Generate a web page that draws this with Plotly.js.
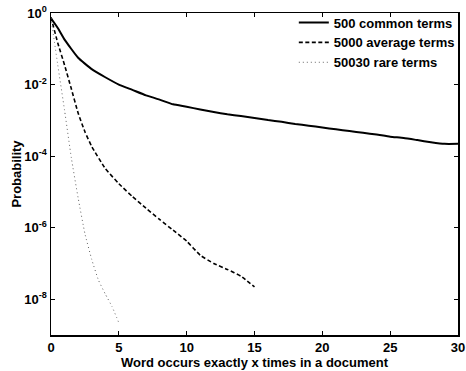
<!DOCTYPE html>
<html>
<head>
<meta charset="utf-8">
<script src="https://cdn.plot.ly/plotly-3.0.1.min.js"></script>
<style>html,body{margin:0;padding:0;background:#fff;}#chart{width:466px;height:371px;}</style>
</head>
<body>
<div id="chart"></div>
<script>
// Series names
const seriesNames = ["500 common terms", "5000 average terms", "50030 rare terms"];

// 500 common terms
const commonX = [0, 0.5, 1, 2, 3, 4, 5, 6, 7, 8, 9, 10, 11, 12, 13, 14, 15, 16, 17, 18, 19, 20, 21, 22, 23, 24, 25, 26, 27, 28, 29, 30];
const commonY = [7.1e-1, 3.8e-1, 1.8e-1, 5.6e-2, 2.7e-2, 1.6e-2, 1.0e-2, 7.1e-3, 5.0e-3, 3.8e-3, 2.8e-3, 2.4e-3, 2.0e-3, 1.7e-3, 1.48e-3, 1.32e-3, 1.17e-3, 1.02e-3, 9.1e-4, 7.9e-4, 7.1e-4, 6.3e-4, 5.6e-4, 5.0e-4, 4.5e-4, 4.0e-4, 3.5e-4, 3.2e-4, 2.8e-4, 2.45e-4, 2.2e-4, 2.2e-4];

// 5000 average terms
const averageX = [0, 0.5, 1, 1.5, 2, 2.5, 3, 4, 5, 6, 7, 8, 9, 10, 11, 12, 13, 14, 15];
const averageY = [7.6e-1, 1.45e-1, 3.5e-2, 7.6e-3, 1.6e-3, 4.8e-4, 1.86e-4, 4.5e-5, 1.7e-5, 7.4e-6, 3.5e-6, 1.7e-6, 8.5e-7, 4.2e-7, 1.7e-7, 1.0e-7, 6.8e-8, 4.4e-8, 2.2e-8];

// 50030 rare terms
const rareX = [0, 0.5, 1, 1.5, 2, 2.5, 3, 3.5, 4, 4.5, 5];
const rareY = [7.2e-1, 3.5e-2, 1.9e-3, 8.9e-5, 6.8e-6, 6.8e-7, 1.3e-7, 3.4e-8, 1.4e-8, 6.2e-9, 2.2e-9];

// Tick labels
const xTickVals = [0, 5, 10, 15, 20, 25, 30];
const yTickVals = [1, 1e-2, 1e-4, 1e-6, 1e-8];
const yTickText = ["10<sup>0</sup>", "10<sup>-2</sup>", "10<sup>-4</sup>", "10<sup>-6</sup>", "10<sup>-8</sup>"];

const FONT = "Liberation Sans, Arial, Helvetica, sans-serif";
const boldFont = (s) => ({family: FONT, size: s, color: "#000", weight: "bold"});

const traces = [
  {x: commonX, y: commonY, name: seriesNames[0], mode: "lines", line: {color: "#000", width: 2, dash: "solid", shape: "spline", smoothing: 0.4}},
  {x: averageX, y: averageY, name: seriesNames[1], mode: "lines", line: {color: "#000", width: 1.6, dash: "4px,2.5px", shape: "spline", smoothing: 0.4}},
  {x: rareX, y: rareY, name: seriesNames[2], mode: "lines", line: {color: "#666", width: 1, dash: "1px,3px", shape: "spline", smoothing: 0.4}}
];

const axisCommon = {
  showline: true, linecolor: "#000", linewidth: 1.5, mirror: "ticks",
  ticks: "inside", ticklen: 4, tickwidth: 1, tickcolor: "#000",
  showgrid: false, zeroline: false,
  tickfont: boldFont(13)
};

const layout = {
  width: 466, height: 371,
  margin: {l: 51, r: 7, t: 13, b: 36, pad: 0},
  paper_bgcolor: "#fff", plot_bgcolor: "#fff",
  showlegend: true,
  legend: {
    x: 1.002, y: 1.017, xanchor: "right", yanchor: "top",
    bgcolor: "rgba(255,255,255,0)", bordercolor: "#fff", borderwidth: 0,
    font: boldFont(13),
    tracegroupgap: 0
  },
  xaxis: Object.assign({}, axisCommon, {
    range: [0, 30], tickvals: xTickVals, ticktext: xTickVals.map(String),
    ticklabeloverflow: "allow",
    title: {text: "Word occurs exactly x times in a document", font: boldFont(13), standoff: 0}
  }),
  yaxis: Object.assign({}, axisCommon, {
    type: "log", range: [-9, 0], tickvals: yTickVals, ticktext: yTickText,
    title: {text: "Probability", font: boldFont(13), standoff: 0}
  })
};

Plotly.newPlot("chart", traces, layout, {displayModeBar: false, staticPlot: true});
</script>
</body>
</html>
